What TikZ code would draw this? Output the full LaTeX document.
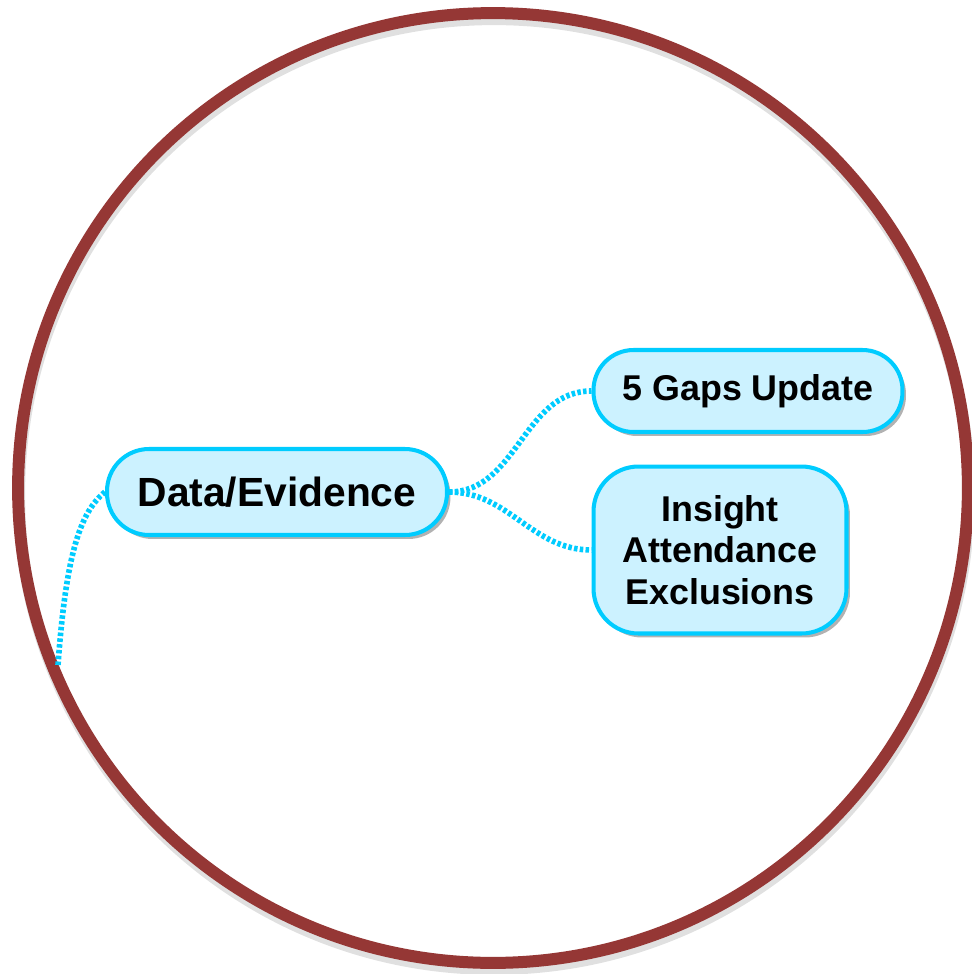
\documentclass[tikz,border=0pt]{standalone}
\usepackage{fontspec}
\setmainfont{Liberation Sans}
\usetikzlibrary{shadows}
\definecolor{ringred}{RGB}{149,55,53}
\definecolor{topicline}{RGB}{0,204,255}
\definecolor{topicfill}{RGB}{204,242,255}
\tikzset{
     topic/.style = { draw=topicline, fill=topicfill, line width=2.3pt, align=center,
                      drop shadow={fill=black, opacity=0.3, shadow xshift=0.07cm, shadow yshift=-0.08cm} },
  maintopic/.style = { topic, rounded corners=0.84cm, font=\bfseries\fontsize{23.2}{27}\selectfont },
   subtopic/.style = { topic, font=\bfseries\fontsize{20.4}{23.8}\selectfont },
      link/.style = { color=topicline, line width=3.2pt, dash pattern=on 2pt off 1.3pt },
}
\newcommand*{\ringradius}{9.5cm}

\begin{document}
\begin{tikzpicture}[x=0.02cm, y=-0.02cm]
  \useasboundingbox (0,0) rectangle (972,974);
  \fill[white] (0,0) rectangle (972,974);

  % ring with its shadow
  \draw[black, opacity=0.12, line width=0.24cm] (494,494) circle [radius=\ringradius];
  \draw[ringred, line width=0.24cm] (493,488) circle [radius=\ringradius];

  \node[maintopic, minimum width=6.8cm, minimum height=1.72cm] (data) at (277,492) {Data/Evidence};
  \node[subtopic, rounded corners=0.8cm, minimum width=6.18cm, minimum height=1.64cm]
    (gaps) at (748,391) {5 Gaps Update};
  \node[subtopic, rounded corners=0.9cm, minimum width=5.06cm, minimum height=3.34cm]
    (insight) at (720,550) {Insight\\Attendance\\Exclusions};

  \coordinate (stub) at (58,665);
  \draw[link] (data.west) .. controls +(-25,20) and +(8,-110) .. (stub);
  \draw[link] (data.east) to[out=0, in=180] (gaps.west);
  \draw[link] (data.east) to[out=0, in=180] (insight.west);

\end{tikzpicture}
\end{document}
